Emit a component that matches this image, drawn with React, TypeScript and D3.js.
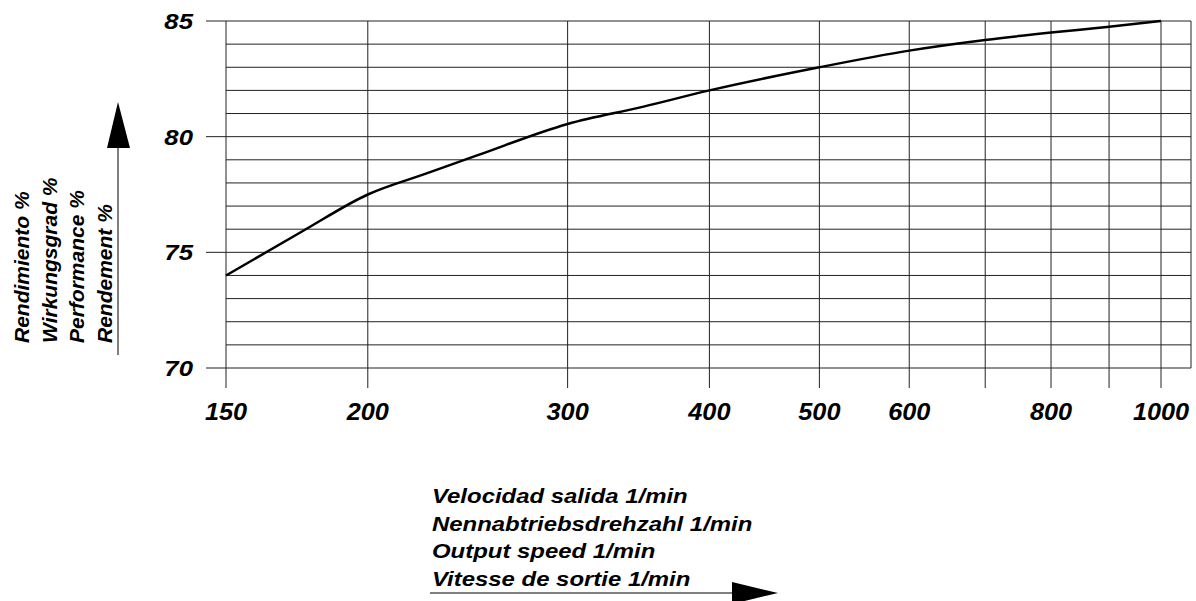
import * as d3 from "d3"

const speeds = [150, 175, 200, 225, 250, 300, 350, 400, 500, 600, 700, 800, 900, 1000]
const efficiency = [74, 75.9, 77.5, 78.4, 79.2, 80.55, 81.3, 82, 83, 83.72, 84.18, 84.5, 84.75, 85]

const xTicks = [150, 200, 300, 400, 500, 600, 700, 800, 900, 1000]
const xTickLabels = ["150", "200", "300", "400", "500", "600", "", "800", "", "1000"]
const yMajor = [70, 75, 80, 85]
const yTitle = ["Rendimiento %", "Wirkungsgrad %", "Performance %", "Rendement %"]
const xTitle = ["Velocidad salida 1/min", "Nennabtriebsdrehzahl 1/min", "Output speed 1/min", "Vitesse de sortie 1/min"]

const W = 1196
const H = 601
const font = "'Liberation Sans', Arial, Helvetica, sans-serif"

// the source drawing is a bit wider than a normal Helvetica
function Wide({ x, y, size, sx, anchor = "start", children }: any) {
  return (
    <text transform={`translate(${x},${y}) scale(${sx},1)`} fontSize={size} textAnchor={anchor}>
      {children}
    </text>
  )
}

export default function App() {
  const x = d3.scaleLog().domain([150, 1000]).range([226, 1161])
  const y = d3.scaleLinear().domain([70, 85]).range([368, 21])
  const gridRight = 1191

  const yGrid = d3.range(70, 86)

  const line = d3
    .line<number>()
    .x((d, i) => x(speeds[i]))
    .y((d) => y(d))
    .curve(d3.curveMonotoneX)

  return (
    <svg
      width={W}
      height={H}
      viewBox={`0 0 ${W} ${H}`}
      style={{ position: "absolute", left: 0, top: 0, background: "#fff" }}
      fontFamily={font}
      fontWeight="bold"
      fontStyle="italic"
    >
      {/* horizontal grid */}
      {yGrid.map((v) => (
        <line
          key={"h" + v}
          x1={yMajor.includes(v) ? 206 : x(150)}
          x2={gridRight}
          y1={y(v)}
          y2={y(v)}
          stroke="#222"
          strokeWidth={1}
        />
      ))}
      {/* vertical grid */}
      {xTicks.map((t) => (
        <line key={"v" + t} x1={x(t)} x2={x(t)} y1={y(85)} y2={388} stroke="#222" strokeWidth={1} />
      ))}
      <line x1={gridRight} x2={gridRight} y1={y(85)} y2={y(70)} stroke="#222" strokeWidth={1} />

      {/* y tick labels */}
      {yMajor.map((v) => (
        <Wide key={"yl" + v} x={193} y={y(v) + 8} size={23} sx={1.12} anchor="end">
          {v}
        </Wide>
      ))}
      {/* x tick labels */}
      {xTicks.map((t, i) => (
        <Wide key={"xl" + t} x={x(t)} y={420} size={23} sx={1.1} anchor="middle">
          {xTickLabels[i]}
        </Wide>
      ))}

      {/* curve */}
      <path d={line(efficiency) ?? ""} fill="none" stroke="#000" strokeWidth={2.5} />

      {/* y title */}
      {yTitle.map((s, i) => (
        <text key={s} transform={`translate(${29 + i * 27.6},343) rotate(-90)`} fontSize={21}>
          {s}
        </text>
      ))}
      <line x1={118} x2={118} y1={146} y2={355} stroke="#000" strokeWidth={1} />
      <path d="M118,102 L107,148 L130,148 Z" fill="#000" />

      {/* x title */}
      {xTitle.map((s, i) => (
        <Wide key={s} x={432} y={503 + i * 27.6} size={21} sx={1.14}>
          {s}
        </Wide>
      ))}
      <line x1={430} x2={735} y1={593} y2={593} stroke="#000" strokeWidth={1} />
      <path d="M778,593 L732,582 L732,604 Z" fill="#000" />
    </svg>
  )
}
